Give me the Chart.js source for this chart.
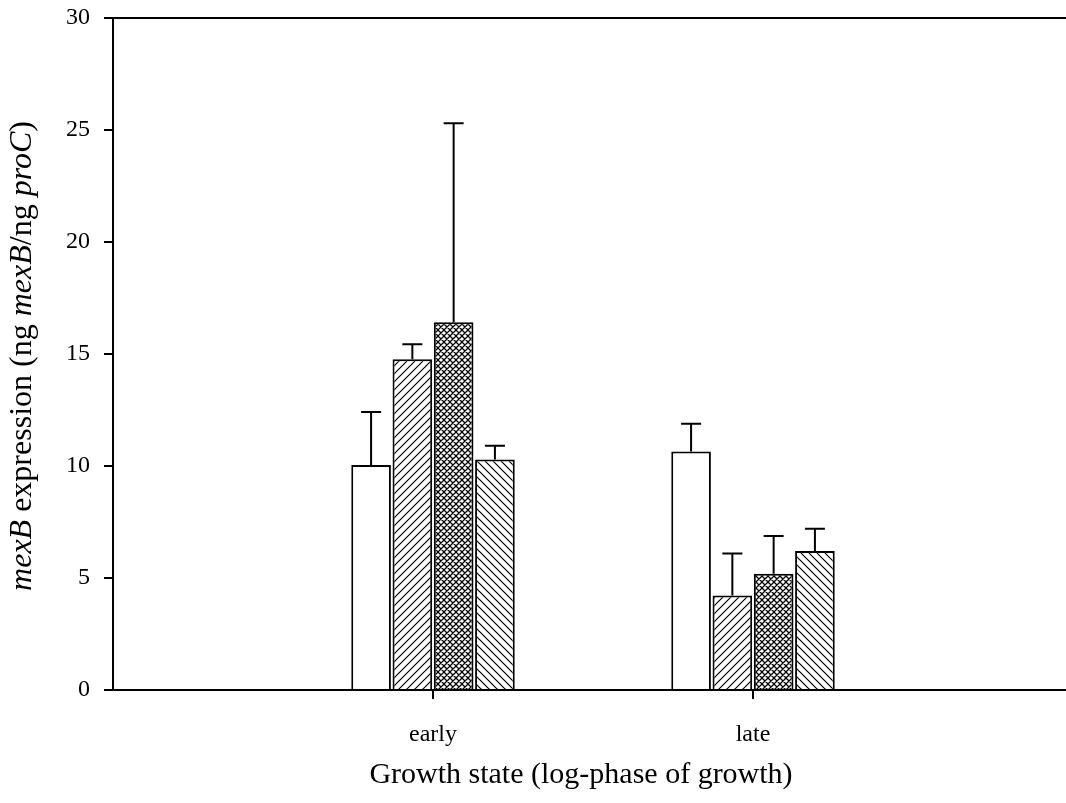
<!DOCTYPE html>
<html>
<head>
<meta charset="utf-8">
<script src="https://cdn.jsdelivr.net/npm/chart.js@4.4.1/dist/chart.umd.min.js"></script>
<style>
html, body { margin:0; padding:0; background:#fff; overflow:hidden; }
</style>
</head>
<body>
<canvas id="mexChart" width="1085" height="803"></canvas>
<script>

// categories (empty ends keep the bars where the original axis puts them)
const labels = ['', 'early', 'late', ''];

// mean mexB expression per condition
const series1 = [null, 10.04, 10.65, null];
const series2 = [null, 14.77, 4.22, null];
const series3 = [null, 16.42, 5.19, null];
const series4 = [null, 10.29, 6.21, null];

// upper error (SD) for each bar
const err1 = [null, 2.37, 1.24, null];
const err2 = [null, 0.67, 1.87, null];
const err3 = [null, 8.88, 1.69, null];
const err4 = [null, 0.61, 0.99, null];

const yMin = 0, yMax = 30, yStep = 5;

const serif = '"Liberation Serif", "Times New Roman", serif';
Chart.defaults.font.family = serif;
Chart.defaults.color = '#000';

const ctx = document.getElementById('mexChart').getContext('2d');


/*
  fill patterns for the bars
*/
function hatch(kind){
  const s = kind === 'cross' ? 6 : 8;
  const p = document.createElement('canvas');
  p.width = s; p.height = s;
  const g = p.getContext('2d');
  g.fillStyle = '#fff';
  g.fillRect(0, 0, s, s);
  g.strokeStyle = '#000';
  g.lineWidth = kind === 'cross' ? 1.25 : 1.2;
  g.beginPath();
  if(kind === 'fwd' || kind === 'cross'){
    g.moveTo(-1, s+1); g.lineTo(s+1, -1);
    g.moveTo(-1, 1); g.lineTo(1, -1);
    g.moveTo(s-1, s+1); g.lineTo(s+1, s-1);
  }
  if(kind === 'back' || kind === 'cross'){
    g.moveTo(-1, -1); g.lineTo(s+1, s+1);
    g.moveTo(s-1, -1); g.lineTo(s+1, 1);
    g.moveTo(-1, s-1); g.lineTo(1, s+1);
  }
  g.stroke();
  return ctx.createPattern(p, 'repeat');
}


const errorBars = {
  id: 'errorBars',
  afterDatasetsDraw(c){
    const g = c.ctx, y = c.scales.y;
    g.save();
    g.strokeStyle = '#000';
    g.lineWidth = 2;
    c.data.datasets.forEach((ds, di) => {
      const meta = c.getDatasetMeta(di);
      meta.data.forEach((bar, i) => {
        const v = ds.data[i], e = ds.err[i];
        if(v == null || !e) return;
        const top = y.getPixelForValue(v + e);
        g.beginPath();
        g.moveTo(bar.x, bar.y);
        g.lineTo(bar.x, top);
        g.moveTo(bar.x - 10, top);
        g.lineTo(bar.x + 10, top);
        g.stroke();
      });
    });
    g.restore();
  }
};


// top frame line + both axis titles (the y one has italic gene names)
const frame = {
  id: 'frame',
  afterDraw(c){
    const g = c.ctx, a = c.chartArea;
    g.save();
    g.strokeStyle = '#000';
    g.lineWidth = 2;
    g.beginPath();
    g.moveTo(a.left - 1, a.top);
    g.lineTo(a.right, a.top);
    g.stroke();

    g.fillStyle = '#000';
    g.textBaseline = 'middle';
    g.textAlign = 'center';
    g.font = '30px ' + serif;
    g.fillText('Growth state (log-phase of growth)', 581, 775);

    const parts = [
      ['mexB', true], [' expression (ng ', false], ['mexB', true],
      ['/ng ', false], ['proC', true], [')', false]
    ];
    const fontOf = it => (it ? 'italic ' : '') + '32px ' + serif;
    let total = 0;
    parts.forEach(p => { g.font = fontOf(p[1]); total += g.measureText(p[0]).width; });
    g.translate(23, 356);
    g.rotate(-Math.PI / 2);
    g.textAlign = 'left';
    let x = -total / 2;
    parts.forEach(p => {
      g.font = fontOf(p[1]);
      g.fillText(p[0], x, 0);
      x += g.measureText(p[0]).width;
    });
    g.restore();
  }
};


function barSet(name, data, err, fill){
  return {
    label: name,
    data: data,
    err: err,
    backgroundColor: fill,
    borderColor: '#000',
    borderWidth: 2,
    categoryPercentage: 0.516,
    barPercentage: 0.96
  };
}


new Chart(ctx, {
  type: 'bar',
  data: {
    labels: labels,
    datasets: [
      barSet('series 1', series1, err1, '#fff'),
      barSet('series 2', series2, err2, hatch('fwd')),
      barSet('series 3', series3, err3, hatch('cross')),
      barSet('series 4', series4, err4, hatch('back'))
    ]
  },
  options: {
    responsive: false,
    animation: false,
    devicePixelRatio: 1,
    layout: { padding: { top: 18, right: 12, left: 0, bottom: 0 } },
    plugins: { legend: { display: false }, tooltip: { enabled: false } },
    scales: {
      x: {
        offset: false,
        grid: {
          offset: false,
          drawOnChartArea: false,
          tickLength: 9,
          lineWidth: 2,
          color: c => (c.tick && c.tick.label) ? '#000' : 'rgba(0,0,0,0)'
        },
        border: { color: '#000', width: 2 },
        ticks: { autoSkip: false, maxRotation: 0, padding: 21, font: { size: 24 } },
        afterFit: s => { s.height = 113; s.paddingLeft = 0; s.paddingRight = 0; }
      },
      y: {
        min: yMin,
        max: yMax,
        grid: { drawOnChartArea: false, tickLength: 9, lineWidth: 2, color: '#000' },
        border: { color: '#000', width: 2 },
        ticks: { stepSize: yStep, padding: 14, font: { size: 24 } },
        afterFit: s => { s.width = 113; s.paddingTop = 0; s.paddingBottom = 0; }
      }
    }
  },
  plugins: [errorBars, frame]
});

</script>
</body>
</html>
